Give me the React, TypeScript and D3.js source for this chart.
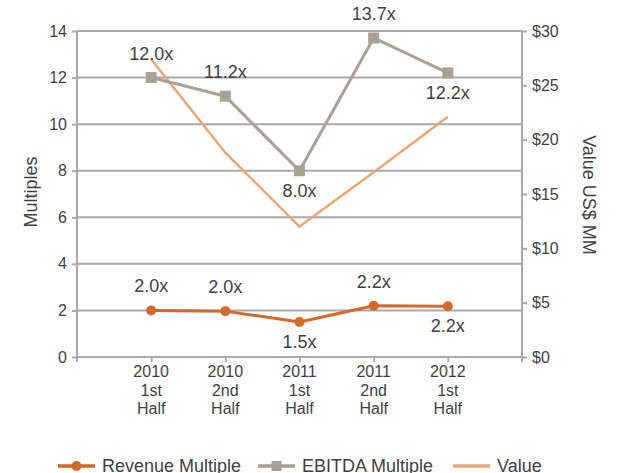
import * as d3 from "d3";
import { useEffect, useRef } from "react";

const categories = ["2010|1st|Half", "2010|2nd|Half", "2011|1st|Half", "2011|2nd|Half", "2012|1st|Half"];
const revenueMultiple = [2.0, 1.97, 1.5, 2.2, 2.18];
const ebitdaMultiple = [12.0, 11.2, 8.0, 13.7, 12.2];
const valueMM = [27.4, 18.8, 12.0, 17.0, 22.1];
const revenueLabels = ["2.0x", "2.0x", "1.5x", "2.2x", "2.2x"];
const ebitdaLabels = ["12.0x", "11.2x", "8.0x", "13.7x", "12.2x"];
const revenueLabelPos = ["above", "above", "below", "above", "below"];
const ebitdaLabelPos = ["above", "above", "below", "above", "below"];
const leftTicks = [0, 2, 4, 6, 8, 10, 12, 14];
const rightTicks = [0, 5, 10, 15, 20, 25, 30];

const REV = "#d0692a";
const EBITDA = "#aaa096";
const VALUE = "#e6a874";
const GRID = "#a9a9ad";
const TEXT = "#3f3f3f";
const FONT = "'Liberation Sans', Arial, sans-serif";

const App = () => {
	const svgRef = useRef(null);

	useEffect(() => {
		const width = 619,
			height = 473;
		const margin = { top: 31, right: 97, bottom: 116, left: 77 };
		const innerW = width - margin.left - margin.right;
		const innerH = height - margin.top - margin.bottom;

		const root = d3.select(svgRef.current);
		root.selectAll("*").remove();
		const svg = root.append("g").attr("transform", `translate(${margin.left},${margin.top})`);

		const x = d3.scalePoint().domain(categories).range([0, innerW]).padding(1);
		const y = d3.scaleLinear().domain([0, 14]).range([innerH, 0]);
		const y2 = d3.scaleLinear().domain([0, 30]).range([innerH, 0]);

		// grid
		svg.append("g")
			.selectAll("line")
			.data(leftTicks.slice(1))
			.join("line")
			.attr("x1", 0)
			.attr("x2", innerW)
			.attr("y1", (d) => y(d))
			.attr("y2", (d) => y(d))
			.attr("stroke", GRID)
			.attr("stroke-width", 2);

		// left axis
		const left = svg.append("g").call(d3.axisLeft(y).tickValues(leftTicks).tickSize(5).tickPadding(5));
		left.select(".domain").attr("stroke", GRID).attr("stroke-width", 2).attr("d", `M0,${innerH}V0`);
		left.selectAll(".tick line").attr("stroke", GRID).attr("stroke-width", 2);
		left.selectAll(".tick text").attr("fill", TEXT).style("font", `16px ${FONT}`);

		// right axis
		const right = svg
			.append("g")
			.attr("transform", `translate(${innerW},0)`)
			.call(d3.axisRight(y2).tickValues(rightTicks).tickSize(5).tickPadding(5).tickFormat((d) => `$${d}`));
		right.select(".domain").attr("stroke", GRID).attr("stroke-width", 2).attr("d", `M0,${innerH}V0`);
		right.selectAll(".tick line").attr("stroke", GRID).attr("stroke-width", 2);
		right.selectAll(".tick text").attr("fill", TEXT).style("font", `16px ${FONT}`);

		// bottom axis
		const bottom = svg
			.append("g")
			.attr("transform", `translate(0,${innerH})`)
			.call(d3.axisBottom(x).tickSize(5).tickFormat(() => ""));
		bottom.select(".domain").attr("stroke", GRID).attr("stroke-width", 2).attr("d", `M0,5V0H${innerW}V5`);
		bottom.selectAll(".tick line").attr("stroke", GRID).attr("stroke-width", 2);
		bottom.selectAll(".tick text").remove();
		categories.forEach((c) => {
			const t = svg
				.append("text")
				.attr("x", x(c))
				.attr("y", innerH + 20)
				.attr("text-anchor", "middle")
				.attr("fill", TEXT)
				.style("font", `16px ${FONT}`);
			c.split("|").forEach((part, i) => {
				t.append("tspan").attr("x", x(c)).attr("dy", i === 0 ? 0 : 18.5).text(part);
			});
		});

		// axis titles
		svg.append("text")
			.attr("transform", `translate(-40,${innerH / 2 - 2}) rotate(-90)`)
			.attr("text-anchor", "middle")
			.attr("fill", TEXT)
			.style("font", `18px ${FONT}`)
			.text("Multiples");
		svg.append("text")
			.attr("transform", `translate(${innerW + 61},${innerH / 2 + 1}) rotate(90)`)
			.attr("text-anchor", "middle")
			.attr("fill", TEXT)
			.style("font", `18px ${FONT}`)
			.text("Value US$ MM");

		// value line
		svg.append("path")
			.datum(valueMM)
			.attr("fill", "none")
			.attr("stroke", VALUE)
			.attr("stroke-width", 2.5)
			.attr("d", d3.line().x((d, i) => x(categories[i])).y((d) => y2(d)));

		// EBITDA
		svg.append("path")
			.datum(ebitdaMultiple)
			.attr("fill", "none")
			.attr("stroke", EBITDA)
			.attr("stroke-width", 3)
			.attr("d", d3.line().x((d, i) => x(categories[i])).y((d) => y(d)));
		svg.selectAll(".sq")
			.data(ebitdaMultiple)
			.join("rect")
			.attr("x", (d, i) => x(categories[i]) - 5.5)
			.attr("y", (d) => y(d) - 5.5)
			.attr("width", 11)
			.attr("height", 11)
			.attr("fill", EBITDA);

		// revenue
		svg.append("path")
			.datum(revenueMultiple)
			.attr("fill", "none")
			.attr("stroke", REV)
			.attr("stroke-width", 3)
			.attr("d", d3.line().x((d, i) => x(categories[i])).y((d) => y(d)));
		svg.selectAll(".dot")
			.data(revenueMultiple)
			.join("circle")
			.attr("cx", (d, i) => x(categories[i]))
			.attr("cy", (d) => y(d))
			.attr("r", 5)
			.attr("fill", REV);

		// data labels
		const addLabels = (vals, labels, pos) => {
			vals.forEach((v, i) => {
				svg.append("text")
					.attr("x", x(categories[i]))
					.attr("y", y(v) + (pos[i] === "above" ? -18 : 26))
					.attr("text-anchor", "middle")
					.attr("fill", TEXT)
					.style("font", `18px ${FONT}`)
					.text(labels[i]);
			});
		};
		addLabels(ebitdaMultiple, ebitdaLabels, ebitdaLabelPos);
		addLabels(revenueMultiple, revenueLabels, revenueLabelPos);

		// legend
		const legend = root.append("g").attr("transform", "translate(0,466)");
		const items = [
			{ name: "Revenue Multiple", color: REV, x: 58, mark: "circle" },
			{ name: "EBITDA Multiple", color: EBITDA, x: 258, mark: "square" },
			{ name: "Value", color: VALUE, x: 453, mark: "none" },
		];
		items.forEach((it) => {
			legend.append("line")
				.attr("x1", it.x)
				.attr("x2", it.x + 37)
				.attr("stroke", it.color)
				.attr("stroke-width", 3.5);
			if (it.mark === "circle") {
				legend.append("circle").attr("cx", it.x + 18.5).attr("r", 5).attr("fill", it.color);
			} else if (it.mark === "square") {
				legend.append("rect").attr("x", it.x + 13.5).attr("y", -5).attr("width", 10).attr("height", 10).attr("fill", it.color);
			}
			legend.append("text")
				.attr("x", it.x + 44)
				.attr("y", 6)
				.attr("fill", TEXT)
				.style("font", `18px ${FONT}`)
				.text(it.name);
		});
	}, []);

	return <svg ref={svgRef} width={619} height={473} style={{ position: "absolute", left: 0, top: 0, background: "#fff" }} />;
};

export default App;
